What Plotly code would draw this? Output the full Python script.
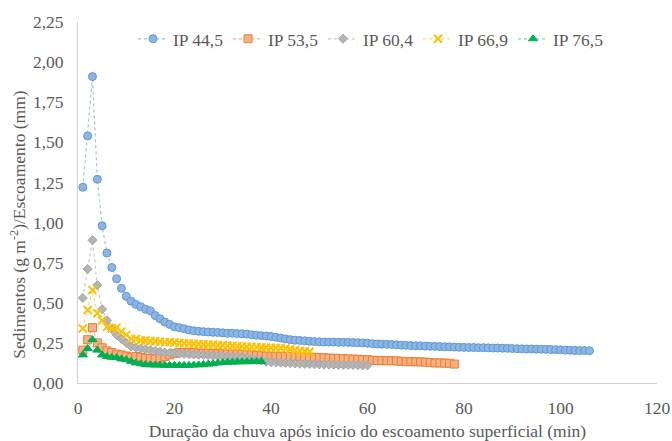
import plotly.graph_objects as go

# Sediment concentration (g m-2 per mm of runoff) by minute after runoff onset
ip_445 = [1.22, 1.54, 1.91, 1.27, 0.98, 0.81, 0.72, 0.65, 0.59, 0.54,
          0.51, 0.49, 0.475, 0.46, 0.45, 0.42, 0.40, 0.38, 0.365, 0.35,
          0.345, 0.338, 0.33, 0.325, 0.322, 0.32, 0.318, 0.316, 0.315, 0.313,
          0.31, 0.31, 0.308, 0.307, 0.305, 0.30, 0.298, 0.295, 0.293, 0.29,
          0.285, 0.28, 0.275, 0.27, 0.267, 0.265, 0.263, 0.26, 0.258, 0.257,
          0.256, 0.255, 0.255, 0.254, 0.254, 0.253, 0.252, 0.251, 0.25, 0.248,
          0.245, 0.243, 0.242, 0.241, 0.24, 0.238, 0.236, 0.235, 0.233, 0.232,
          0.232, 0.23, 0.229, 0.228, 0.227, 0.226, 0.225, 0.224, 0.223, 0.222,
          0.221, 0.221, 0.22, 0.22, 0.219, 0.218, 0.218, 0.217, 0.216, 0.215,
          0.214, 0.213, 0.212, 0.212, 0.211, 0.21, 0.21, 0.209, 0.208, 0.207,
          0.205, 0.204, 0.203, 0.202, 0.202, 0.201]

ip_535 = [0.205, 0.27, 0.345, 0.25, 0.22, 0.20, 0.19, 0.18, 0.175, 0.168,
          0.16, 0.165, 0.16, 0.155, 0.152, 0.15, 0.155, 0.165, 0.175, 0.185,
          0.19, 0.19, 0.19, 0.188, 0.187, 0.186, 0.185, 0.184, 0.183, 0.182,
          0.181, 0.18, 0.18, 0.178, 0.176, 0.175, 0.172, 0.17, 0.168, 0.168,
          0.167, 0.166, 0.165, 0.165, 0.163, 0.162, 0.161, 0.16, 0.16, 0.158,
          0.157, 0.155, 0.154, 0.153, 0.152, 0.15, 0.149, 0.148, 0.146, 0.145,
          0.142, 0.14, 0.14, 0.139, 0.139, 0.138, 0.135, 0.133, 0.133, 0.132,
          0.132, 0.13, 0.127, 0.125, 0.125, 0.124, 0.123, 0.118]

ip_604 = [0.53, 0.71, 0.89, 0.61, 0.46, 0.39, 0.335, 0.30, 0.275, 0.25,
          0.228, 0.22, 0.215, 0.21, 0.205, 0.20, 0.195, 0.19, 0.188, 0.186,
          0.184, 0.182, 0.18, 0.178, 0.176, 0.175, 0.173, 0.17, 0.168, 0.166,
          0.165, 0.163, 0.162, 0.16, 0.155, 0.15, 0.145, 0.14, 0.133, 0.13,
          0.128, 0.127, 0.125, 0.123, 0.122, 0.12, 0.119, 0.118, 0.117, 0.116,
          0.115, 0.115, 0.114, 0.113, 0.113, 0.112, 0.112, 0.111, 0.11, 0.11]

ip_669 = [0.34, 0.455, 0.58, 0.435, 0.39, 0.35, 0.34, 0.345, 0.32, 0.30,
          0.275, 0.275, 0.265, 0.265, 0.262, 0.26, 0.258, 0.255, 0.255, 0.252,
          0.25, 0.248, 0.247, 0.245, 0.243, 0.242, 0.24, 0.238, 0.236, 0.235,
          0.233, 0.232, 0.23, 0.228, 0.226, 0.225, 0.224, 0.222, 0.221, 0.22,
          0.219, 0.218, 0.216, 0.21, 0.205, 0.20, 0.198, 0.195]

ip_765 = [0.175, 0.215, 0.27, 0.205, 0.175, 0.165, 0.16, 0.158, 0.15, 0.145,
          0.135, 0.125, 0.12, 0.115, 0.113, 0.112, 0.112, 0.11, 0.11, 0.11,
          0.11, 0.11, 0.11, 0.112, 0.113, 0.115, 0.118, 0.12, 0.125, 0.128,
          0.13, 0.13, 0.132, 0.132, 0.133, 0.133, 0.134, 0.134]

series_names = ["IP 44,5", "IP 53,5", "IP 60,4", "IP 66,9", "IP 76,5"]
x_ticks = [0, 20, 40, 60, 80, 100, 120]
y_ticks = [0, 0.25, 0.5, 0.75, 1.0, 1.25, 1.5, 1.75, 2.0, 2.25]

styles = [
    dict(line="#9dc3e6", symbol="circle", size=8, fill="#8eb4e3", edge="#5b9bd5", ew=1),
    dict(line="#f4b183", symbol="square", size=8, fill="#f4b183", edge="#ed7d31", ew=1),
    dict(line="#c8c8c8", symbol="diamond", size=7, fill="#b4b4b4", edge="#a5a5a5", ew=1),
    dict(line="#ffd966", symbol="x-thin-open", size=8, fill="#ffc000", edge="#ffc000", ew=2),
    dict(line="#7fd3a0", symbol="triangle-up", size=8, fill="#00b050", edge="#00b050", ew=1),
]

FONT = "Liberation Serif"
FS = 17.5
GREY = "#595959"

fig = go.Figure()
for name, values, st in zip(series_names, [ip_445, ip_535, ip_604, ip_669, ip_765], styles):
    minutes = list(range(1, len(values) + 1))
    fig.add_trace(go.Scatter(
        x=minutes, y=values, name=name, mode="lines+markers",
        line=dict(color=st["line"], width=1.2, dash="dot"),
        marker=dict(symbol=st["symbol"], size=st["size"], color=st["fill"],
                    line=dict(color=st["edge"], width=st["ew"])),
    ))

fig.update_layout(
    width=672, height=441,
    margin=dict(l=78, r=15, t=22, b=58),
    paper_bgcolor="white", plot_bgcolor="white",
    separators=",.",
    font=dict(family=FONT, size=FS, color=GREY),
    showlegend=True,
    legend=dict(orientation="h", x=0.095, xanchor="left", y=1.003, yanchor="top",
                font=dict(family=FONT, size=FS, color=GREY),
                bgcolor="rgba(0,0,0,0)", entrywidth=50, entrywidthmode="pixels",
                itemwidth=30, tracegroupgap=0),
    xaxis=dict(range=[0, 120], tickvals=x_ticks, showgrid=False, zeroline=False,
               showline=True, linecolor="#d0d0d0", linewidth=1, ticks="",
               ticklabelstandoff=9, automargin=False,
               tickfont=dict(family=FONT, size=FS, color=GREY),
               title=dict(text="Duração da chuva após início do escoamento superficial (min)",
                          font=dict(family=FONT, size=FS, color=GREY), standoff=10)),
    yaxis=dict(range=[0, 2.25], tickvals=y_ticks, tickformat=".2f", showgrid=False,
               zeroline=False, showline=True, linecolor="#d0d0d0", linewidth=1,
               ticks="", ticklabelstandoff=10, automargin=False,
               tickfont=dict(family=FONT, size=FS, color=GREY)),
    annotations=[dict(text="Sedimentos (g m<sup>-2</sup>)/Escoamento (mm)",
                      textangle=-90, xref="paper", yref="paper",
                      x=-0.104, y=0.438, xanchor="center", yanchor="middle",
                      showarrow=False, font=dict(family=FONT, size=FS, color=GREY))],
)

fig.write_html("out.html")
